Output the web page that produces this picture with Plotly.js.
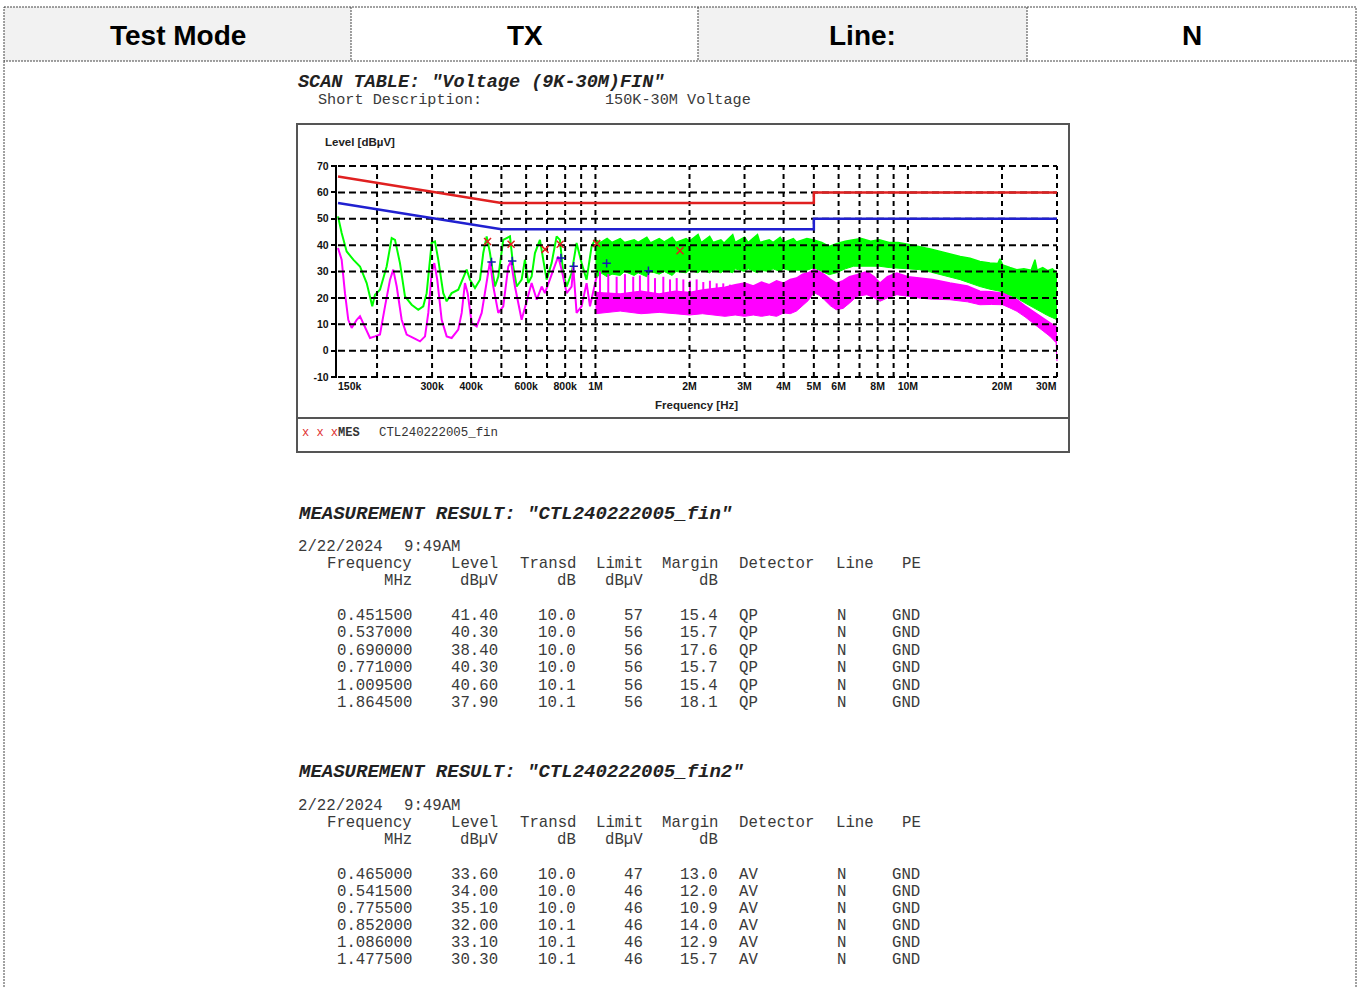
<!DOCTYPE html>
<html><head><meta charset="utf-8">
<script src="https://cdn.plot.ly/plotly-3.0.1.min.js"></script>
<style>html,body{margin:0;padding:0;background:#fff;overflow:hidden}#chart{width:1360px;height:987px}</style>
</head><body><div id="chart"></div><script>
// ---------------- data ----------------
const tickFreq = [0.3,0.4,0.6,0.8,1,2,3,4,5,6,8,10,20];
const tickText = ['300k','400k','600k','800k','1M','2M','3M','4M','5M','6M','8M','10M','20M'];
const edgeTickFreq = [0.15,30];
const edgeTickText = ['150k','30M'];
const gridFreq = [0.2,0.3,0.4,0.5,0.6,0.7,0.8,0.9,1,2,3,4,5,6,7,8,9,10,20,30];
const gridLevel = [-10,0,10,20,30,40,50,60,70];

const qpLimitF = [0.15,0.5,5,5,30];
const qpLimitV = [66,56,56,60,60];
const avLimitF = [0.15,0.5,5,5,30];
const avLimitV = [56,46,46,50,50];

// peak (green) scan below 1 MHz
const qpScanF = [0.150,0.1541,0.1599,0.1679,0.1764,0.1853,0.1931,0.1970,0.2044,0.2147,0.2228,0.2283,0.2368,0.2457,0.2581,0.2710,0.2812,0.2883,0.2991,0.3065,0.3140,0.3258,0.3341,0.3466,0.3639,0.3776,0.3871,0.3967,0.4116,0.4270,0.4375,0.4486,0.4597,0.4769,0.4887,0.5070,0.5326,0.5457,0.5596,0.5805,0.5948,0.6094,0.6249,0.6403,0.6643,0.6806,0.6979,0.7240,0.7512,0.7697,0.7886,0.8086,0.8389,0.8703,0.9030,0.9368,0.9720,0.9959];
const qpScanV = [50.9,44.6,37.6,34.5,31.9,25.6,16.8,21.2,23.1,31.9,42.7,42.0,33.2,20.6,17.4,15.5,16.8,21.8,40.8,41.4,34.5,21.8,18.7,21.8,23.1,27.5,30.7,26.9,23.7,26.9,37.0,43.3,37.0,24.3,28.1,42.0,43.3,31.9,24.3,26.9,34.5,25.6,28.1,37.0,42.0,34.5,26.9,33.2,43.3,42.0,29.4,24.3,29.4,40.8,33.2,26.9,39.5,42.0];

// average (magenta) scan below 1 MHz
const avScanF = [0.150,0.1541,0.1579,0.1618,0.1659,0.1722,0.1764,0.1830,0.1899,0.1970,0.2044,0.2121,0.2201,0.2254,0.2312,0.2398,0.2488,0.2612,0.2745,0.2848,0.2918,0.2991,0.3050,0.3117,0.3220,0.3341,0.3466,0.3639,0.3732,0.3823,0.3900,0.4017,0.4168,0.4324,0.4486,0.4597,0.4711,0.4887,0.5070,0.5260,0.5366,0.5526,0.5805,0.6026,0.6249,0.6487,0.6729,0.6892,0.7151,0.7601,0.7794,0.8086,0.8389,0.8489,0.8703,0.9030,0.9368,0.9607,1.0088];
const avScanV = [38.9,34.5,21.8,11.7,8.6,11.7,13.0,9.2,4.8,5.4,6.1,16.8,26.9,30.7,24.3,11.7,6.1,4.8,3.5,5.4,14.3,29.4,33.2,26.9,11.7,5.4,4.8,8.0,14.3,25.6,21.8,10.5,9.2,14.3,25.6,33.8,24.3,14.3,16.8,31.9,33.8,24.3,11.7,19.3,25.6,19.3,24.3,21.8,26.9,35.7,30.7,21.8,24.3,31.9,14.3,16.8,25.6,16.8,28.1];

// dense regions above 1 MHz: lower / upper envelopes
const qpBandF  = [1.0,1.04,1.09,1.13,1.2,1.24,1.33,1.37,1.46,1.5,1.6,1.66,1.76,1.81,1.95,2.0,2.13,2.18,2.32,2.38,2.52,2.58,2.75,2.8,3.0,3.08,3.3,3.36,3.6,3.7,3.9,4.0,4.3,4.4,4.75,5.0,5.3,5.6,5.9,6.3,6.7,7.1,7.6,8.1,8.7,9.3,10,10.9,11.8,12.7,13.7,14.7,15.8,17,18.3,19.4,19.7,20.1,21.2,22.3,23.5,24.8,25.5,25.9,27,28,29,30];
const qpBandLo = [27,29.5,28,29,28.5,30,28.5,29.5,28,30,29,30,28.5,30,29.5,30.5,29.5,30.5,29.5,30.5,29.5,30.5,29.5,31,30,31,29.5,30.5,30,31,30,31,30,30.5,30.5,31.4,30,28.8,29.5,31,32,32,32,32,31.5,31.3,31,30.7,29.8,28.8,27.8,26.9,25.6,24.3,23.3,22.7,22.5,22,21,19.9,18.3,16.7,16,15.5,14.3,13.3,12.5,11.7];
const qpBandHi = [42,41,42.5,41,42.5,41,42,41,43,40.8,42.5,41.2,43,41,42.5,41.5,44,41,43.3,41,42,40.8,44,41,43,41,44,41,42,41,43,41,42.5,41.2,42.5,42,41,39.5,40.5,41.5,42,42.5,41.5,42,41,41,40.3,39.5,38.5,37.6,36.5,35.7,35,33.8,33.2,33,34.8,32.5,31.5,30.7,31,30.5,34.5,30.5,31.5,30.3,31,29.4];

const avBandF  = [1.0,1.2,1.4,1.6,1.8,2.0,2.2,2.4,2.6,2.8,3.0,3.2,3.4,3.6,3.8,4.0,4.2,4.4,4.6,4.8,5.0,5.2,5.4,5.65,5.9,6.2,6.5,6.87,7.39,7.8,8.14,8.6,9.22,10.0,10.93,12.0,13.63,15.5,17.0,18.5,20.1,21.2,22.33,23.7,25.1,26.8,28.5,29.8,30.0];
const avBandLo = [14,15,14,14.5,14,13.5,14,13.5,13,13.5,13,13.5,13,13.5,13,14.3,14,15,17,19,22,21,19.3,17,15.5,16,18,20.6,21.2,20,18.7,20,21.2,20.5,19.9,19.5,19.3,18.5,17.4,17.5,17.4,16.2,14.9,12.8,10.5,8,5.4,3,-4];
const avBandHi = [22,21.5,22.5,21.5,22.5,22,23,23.5,24,25,25.6,24.5,26,25,26.5,25.6,27,27.5,29,29.5,30.7,30,28.8,27,25.6,26.5,28,28.8,30,28,25.6,28,29.4,28,27.5,27,25.6,24.5,22.5,22.3,21.8,20.5,19.3,17,14.9,12.5,10.5,9,8.6];

const avSpikeF   = [1.034,1.099,1.169,1.243,1.321,1.388,1.476,1.551,1.649,1.732,1.820,1.911,2.007,2.108,2.214,2.325,2.443,2.565,2.695,2.831];
const avSpikeTop = [30,29,28,29,28,28.5,29,27.5,28,27,27.5,27,26.5,27,26,26.5,25.5,25.5,25,25];
const AV_SPIKE_BASE = 18;

// measurement results
const qpFreq   = [0.451500,0.537000,0.690000,0.771000,1.009500,1.864500];
const qpLevel  = [41.40,40.30,38.40,40.30,40.60,37.90];
const qpTransd = [10.0,10.0,10.0,10.0,10.1,10.1];
const qpLimit  = [57,56,56,56,56,56];
const qpMargin = [15.4,15.7,17.6,15.7,15.4,18.1];
const avFreq   = [0.465000,0.541500,0.775500,0.852000,1.086000,1.477500];
const avLevel  = [33.60,34.00,35.10,32.00,33.10,30.30];
const avTransd = [10.0,10.0,10.0,10.1,10.1,10.1];
const avLimit  = [47,46,46,46,46,46];
const avMargin = [13.0,12.0,10.9,14.0,12.9,15.7];

// ---------------- layout helpers ----------------
const W = 1360, H = 987;
const PX = p => p / W, PY = p => 1 - p / H;
const MONO = 'Liberation Mono, Courier New, monospace';
const SANS = 'Liberation Sans, Arial, sans-serif';
const ann = [];
function txt(text, x, y, o) {
  ann.push(Object.assign({xref:'paper', yref:'paper', x:PX(x), y:PY(y), text:text, showarrow:false,
    xanchor:'left', yanchor:'middle', borderpad:0, borderwidth:0,
    font:{family:MONO, size:15.7, color:'#3a3a3a'}}, o || {}));
}
const shapes = [];
function rect(x0,y0,x1,y1,o){ shapes.push(Object.assign({type:'rect', xref:'paper', yref:'paper', x0:PX(x0), x1:PX(x1), y0:PY(y0), y1:PY(y1)}, o)); }
function seg(x0,y0,x1,y1,o){ shapes.push(Object.assign({type:'line', xref:'paper', yref:'paper', x0:PX(x0), x1:PX(x1), y0:PY(y0), y1:PY(y1)}, o)); }

// header table
const dashLine = {color:'#444', width:1, dash:'2px,1px'};
rect(4,7,351,61,{fillcolor:'#f2f2f2', line:{width:0}, layer:'below'});
rect(698,7,1027,61,{fillcolor:'#f2f2f2', line:{width:0}, layer:'below'});
rect(4,7,1356,61,{line:dashLine});
seg(351,7,351,61,{line:dashLine});
seg(698,7,698,61,{line:dashLine});
seg(1027,7,1027,61,{line:dashLine});
seg(4,61,4,987,{line:dashLine});
seg(1356,61,1356,987,{line:dashLine});
const hdrFont = {family:SANS, size:28, color:'#000'};
txt('<b>Test Mode</b>',177.5,35,{xanchor:'center', font:hdrFont});
txt('<b>TX</b>',524.5,35,{xanchor:'center', font:hdrFont});
txt('<b>Line:</b>',862.5,35,{xanchor:'center', font:hdrFont});
txt('<b>N</b>',1191.5,35,{xanchor:'center', font:hdrFont});

// scan table text
txt('<b><i>SCAN TABLE: "Voltage (9K-30M)FIN"</i></b>',298,82,{font:{family:MONO,size:18.5,color:'#222'}});
txt('Short Description:',318,100,{font:{family:MONO,size:15.2,color:'#3a3a3a'}});
txt('150K-30M Voltage',605,100,{font:{family:MONO,size:15.2,color:'#3a3a3a'}});

// chart frame
rect(297,124,1069,452,{line:{color:'#555', width:2}});
seg(297,418,1069,418,{line:{color:'#555', width:2}});
txt('<b>Level [dBµV]</b>',325,142,{font:{family:SANS,size:11.5,color:'#222'}});
txt('<b>Frequency [Hz]</b>',697,405,{xanchor:'center', font:{family:SANS,size:11.5,color:'#222'}});
txt('<span style="color:#e03030">x x x</span><b>MES</b>',302,433,{font:{family:MONO,size:12,color:'#333'}});
txt('CTL240222005_fin',379,433,{font:{family:MONO,size:12.4,color:'#333'}});

// measurement tables
const hdr1 = ['Frequency','Level','Transd','Limit','Margin','Detector','Line','PE'];
const hdr2 = ['MHz','dBµV','dB','dBµV','dB'];
const colRight = [412,498,576,643,718];
const hdrLeft = [739,836,902];
const rowLeft = [739,837,892];
function table(title, y0, freq, level, transd, limit, margin, det, step, hy) {
  txt('<b><i>' + title + '</i></b>',298,y0,{font:{family:MONO,size:19,color:'#222'}});
  txt('2/22/2024',298,hy-17);
  txt('9:49AM',404,hy-17);
  const hy2 = hy + 17;
  hdr1.forEach((h,i)=>{ if(i<5) txt(h,colRight[i],hy,{xanchor:'right'}); else txt(h,hdrLeft[i-5],hy); });
  hdr2.forEach((h,i)=>txt(h,colRight[i],hy2,{xanchor:'right'}));
  const ry0 = hy + 52;
  freq.forEach((f,i)=>{
    const y = ry0 + i*step;
    const cells = [f.toFixed(6), level[i].toFixed(2), transd[i].toFixed(1), String(limit[i]), margin[i].toFixed(1)];
    cells.forEach((c,j)=>txt(c,colRight[j],y,{xanchor:'right'}));
    txt(det,rowLeft[0],y); txt('N',rowLeft[1],y); txt('GND',rowLeft[2],y);
  });
}
table('MEASUREMENT RESULT: "CTL240222005_fin"',514,qpFreq,qpLevel,qpTransd,qpLimit,qpMargin,'QP',17.4,564);
table('MEASUREMENT RESULT: "CTL240222005_fin2"',772,avFreq,avLevel,avTransd,avLimit,avMargin,'AV',17.0,823);

// edge tick labels (150k left-aligned, 30M right-aligned as in the reference)
const tickFont = {family:SANS, size:10.5, color:'#111'};
edgeTickFreq.forEach((f,i)=>{
  ann.push({xref:'x', yref:'paper', x:Math.log10(f), y:PY(386), text:'<b>'+edgeTickText[i]+'</b>', showarrow:false,
    xanchor: i===0 ? 'left' : 'right', yanchor:'middle', borderpad:0, borderwidth:0, font:tickFont});
});

// ---------------- traces ----------------
const GREEN = '#00ff00', MAG = '#ff00ff';
const traces = [];
traces.push({x:qpBandF, y:qpBandLo, mode:'lines', line:{color:GREEN, width:1}, hoverinfo:'skip'});
traces.push({x:qpBandF, y:qpBandHi, mode:'lines', fill:'tonexty', fillcolor:GREEN, line:{color:GREEN, width:1.5}, hoverinfo:'skip'});
traces.push({x:qpScanF, y:qpScanV, mode:'lines', line:{color:GREEN, width:2}});
traces.push({x:avBandF, y:avBandLo, mode:'lines', line:{color:MAG, width:1}, hoverinfo:'skip'});
traces.push({x:avBandF, y:avBandHi, mode:'lines', fill:'tonexty', fillcolor:MAG, line:{color:MAG, width:1.5}, hoverinfo:'skip'});
const spX = [], spY = [];
avSpikeF.forEach((f,i)=>{ spX.push(f,f,null); spY.push(AV_SPIKE_BASE, avSpikeTop[i], null); });
traces.push({x:spX, y:spY, mode:'lines', line:{color:MAG, width:2}, connectgaps:false});
traces.push({x:avScanF, y:avScanV, mode:'lines', line:{color:MAG, width:2}});
// grid drawn above data (as in the reference)
const vx = [], vy = [];
gridFreq.forEach(f=>{ vx.push(f,f,null); vy.push(-10,70,null); });
const hx = [], hy = [];
gridLevel.forEach(v=>{ hx.push(0.15,30,null); hy.push(v,v,null); });
traces.push({x:vx, y:vy, mode:'lines', line:{color:'#000', width:2, dash:'5px,4px'}, hoverinfo:'skip'});
traces.push({x:hx, y:hy, mode:'lines', line:{color:'#000', width:2, dash:'7px,4px'}, hoverinfo:'skip'});
// limits
traces.push({x:qpLimitF, y:qpLimitV, mode:'lines', line:{color:'#e02020', width:2.5}});
traces.push({x:avLimitF, y:avLimitV, mode:'lines', line:{color:'#2020d0', width:2.5}});
// final measurement markers
traces.push({x:qpFreq, y:qpLevel, mode:'markers', marker:{symbol:'x-thin', size:7, line:{color:'#e02020', width:1.5}}});
traces.push({x:avFreq, y:avLevel, mode:'markers', marker:{symbol:'cross-thin', size:6, line:{color:'#1a1ab0', width:1.5}}});

// axes geometry
const X0 = 338, X1 = 1057, Y70 = 166, YM10 = 377;
const pxPerDec = (X1 - X0) / Math.log10(30/0.15);
const pxPerDb = (YM10 - Y70) / 80;
const ex = 0.004, ey = 0.4;
const layout = {
  width:W, height:H, margin:{l:0,r:0,t:0,b:0}, showlegend:false,
  paper_bgcolor:'#fff', plot_bgcolor:'#fff',
  xaxis:{type:'log', range:[Math.log10(0.15)-ex, Math.log10(30)+ex],
    domain:[PX(X0-ex*pxPerDec), PX(X1+ex*pxPerDec)],
    tickvals:tickFreq, ticktext:tickText.map(t=>'<b>'+t+'</b>'), showgrid:false, zeroline:false, showline:false,
    ticks:'', tickfont:tickFont, fixedrange:true},
  yaxis:{range:[-10-ey, 70+ey], domain:[PY(YM10+ey*pxPerDb), PY(Y70-ey*pxPerDb)],
    tickvals:gridLevel, ticktext:gridLevel.map(v=>'<b>'+String(v)+'</b>'),
    showgrid:false, zeroline:false, showline:true, linecolor:'#000', linewidth:2,
    ticks:'outside', ticklen:4, tickwidth:2, tickcolor:'#000', layer:'above traces',
    tickfont:tickFont, fixedrange:true},
  shapes:shapes, annotations:ann
};
Plotly.newPlot('chart', traces, layout, {staticPlot:true, displayModeBar:false});
</script></body></html>
